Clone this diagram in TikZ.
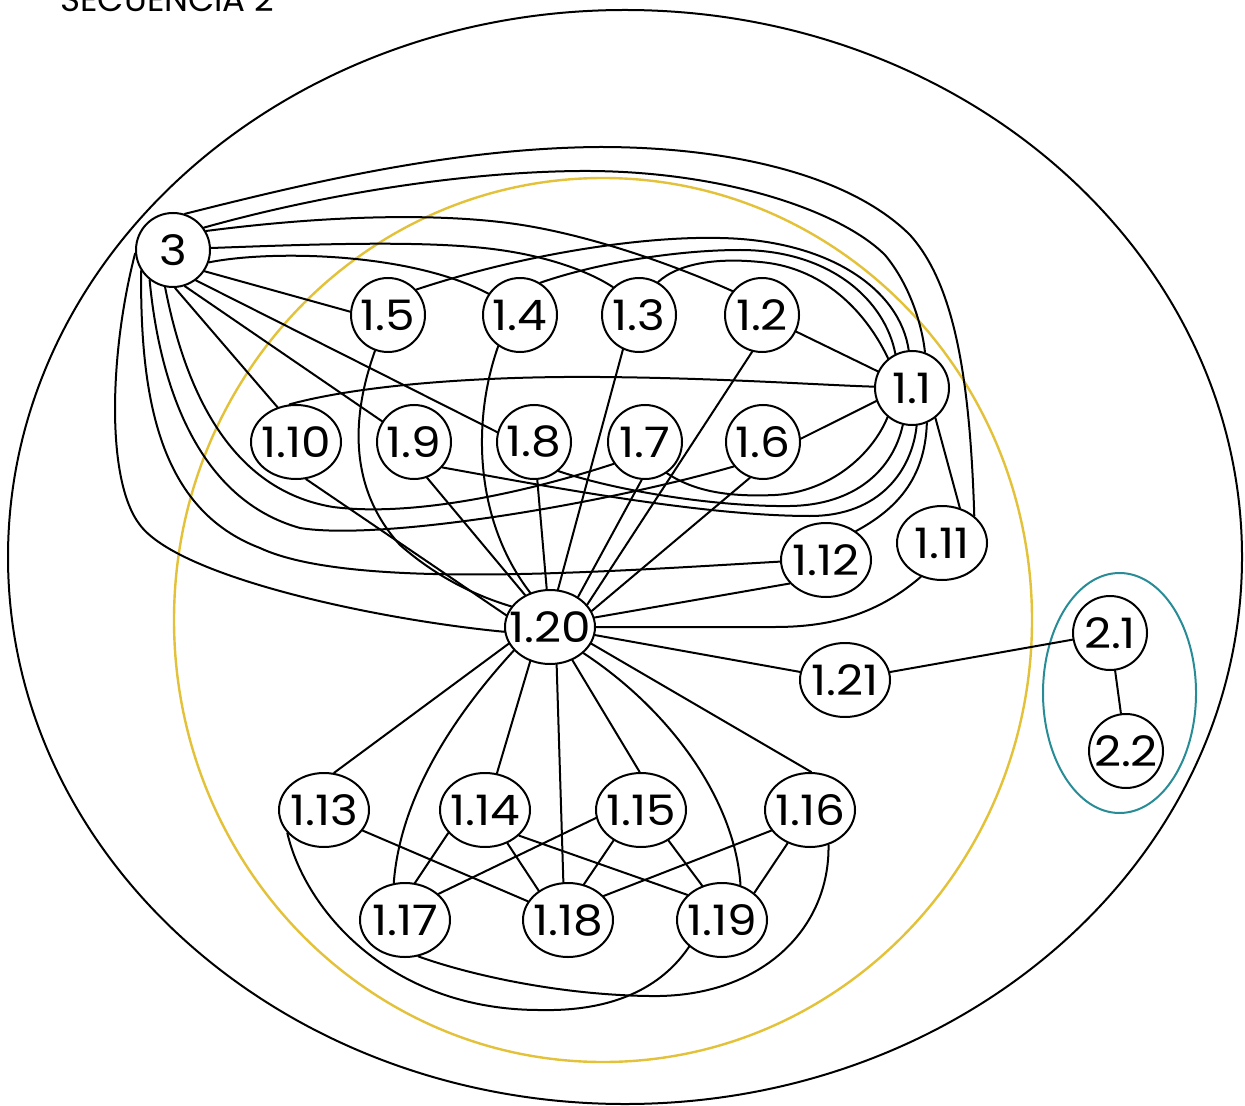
\documentclass[tikz,border=0pt]{standalone}
\usepackage{fontspec}
\usepackage{graphicx}
\usetikzlibrary{shapes.geometric}
\newfontfamily\lblfont{Poppins}
\definecolor{gold}{RGB}{227,194,58}
\definecolor{tealring}{RGB}{40,140,150}
% label text: centred, slightly widened, taking no width of its own
\newcommand\tx[1]{\makebox[0pt]{\scalebox{1.12}[1]{#1}}}

\begin{document}
\begin{tikzpicture}[x=0.5pt,y=-0.5pt,
  labelfont/.style={font=\lblfont\fontsize{21}{21}\selectfont},
  dot/.style={circle,draw,line width=1pt,fill=white,minimum size=37pt,inner sep=0pt,labelfont},
  oval/.style={ellipse,draw,line width=1pt,fill=white,minimum width=45pt,minimum height=37pt,inner sep=0pt,labelfont},
  link/.style={line width=1pt,line cap=round},
  ring/.style={line width=1pt}]

\useasboundingbox (0,0) rectangle (1245,1106);
\clip (0,0) rectangle (1245,1106);
\fill[white] (0,0) rectangle (1245,1106);

% title, partly cut by the top edge
\node[anchor=base west,inner sep=0pt,font=\lblfont\fontsize{17}{17}\selectfont] (title) at (60,12) {SECUENCIA 2};

% groups
\draw[ring] (625,557) ellipse [x radius=617, y radius=547];
\draw[ring,gold,line width=1.2pt] (603,620) ellipse [x radius=429, y radius=442];
\draw[ring,tealring] (1119.5,693) ellipse [x radius=76.5, y radius=120];

% nodes
\node[dot] (n3) at (173,250) {\tx{3}};
\node[dot] (n15) at (388,315) {\tx{1.5}};
\node[dot] (n14) at (520,315) {\tx{1.4}};
\node[dot] (n13) at (639,315) {\tx{1.3}};
\node[dot] (n12) at (762,315) {\tx{1.2}};
\node[dot] (n11) at (912,388) {\tx{1.1}};
\node[oval] (n110) at (296,442) {\tx{1.10}};
\node[dot] (n19) at (414,442) {\tx{1.9}};
\node[dot] (n18) at (534,442) {\tx{1.8}};
\node[dot] (n17) at (645,442) {\tx{1.7}};
\node[dot] (n16) at (763,442) {\tx{1.6}};
\node[oval] (n112) at (826,560) {\tx{1.12}};
\node[oval] (n111) at (942,543) {\tx{1.11}};
\node[oval] (n120) at (550,627) {\tx{1.20}};
\node[oval] (n121) at (845,680) {\tx{1.21}};
\node[oval] (n113) at (324,810) {\tx{1.13}};
\node[oval] (n114) at (485,810) {\tx{1.14}};
\node[oval] (n115) at (641,810) {\tx{1.15}};
\node[oval] (n116) at (810,810) {\tx{1.16}};
\node[oval] (n117) at (405,920) {\tx{1.17}};
\node[oval] (n118) at (568,920) {\tx{1.18}};
\node[oval] (n119) at (722,920) {\tx{1.19}};
\node[dot] (n21) at (1110,633) {\tx{2.1}};
\node[dot] (n22) at (1126,751) {\tx{2.2}};

% links leaving 3
\draw[link] (n3.72) .. controls (300,185) and (450,148) .. (600,147) .. controls (730,147) and (850,175) .. (910,235) .. controls (955,285) and (970,380) .. (n111.40);
\draw[link] (n3.36) .. controls (320,195) and (460,172) .. (580,171) .. controls (720,170) and (840,210) .. (885,255) .. controls (910,285) and (922,325) .. (n11.70);
\draw[link] (n3.30) .. controls (330,215) and (430,214) .. (500,222) .. controls (590,232) and (690,272) .. (n12.141);
\draw[link] (n3.3) .. controls (320,244) and (430,240) .. (500,250) .. controls (550,257) and (590,272) .. (n13.133);
\draw[link] (n3.-19) .. controls (270,250) and (410,252) .. (n14.146);
\draw[link] (n3.-34) -- (n15.175);
\draw[link] (n3.-53) -- (n18.165);
\draw[link] (n3.-72) -- (n19.147);
\draw[link] (n3.-87) -- (n110.118);
\draw[link] (n3.185) .. controls (110,350) and (105,480) .. (140,525) .. controls (180,578) and (380,620) .. (n120.186);
\draw[link] (n3.213) .. controls (140,400) and (160,510) .. (260,548) .. controls (350,590) and (600,572) .. (n112.182);
\draw[link] (n3.232) .. controls (160,390) and (200,500) .. (300,528) .. controls (380,541) and (600,505) .. (n16.220);
\draw[link] (n3.258) .. controls (185,390) and (230,490) .. (333,507) .. controls (420,518) and (540,488) .. (n17.215);

% links around 1.1
\draw[link] (n15.42) .. controls (520,255) and (640,236) .. (720,238) .. controls (830,240) and (900,290) .. (n11.95);
\draw[link] (n14.58) .. controls (600,262) and (680,250) .. (740,250) .. controls (830,250) and (885,300) .. (n11.116);
\draw[link] (n13.60) .. controls (680,262) and (720,258) .. (760,262) .. controls (830,268) and (870,320) .. (n11.129);
\draw[link] (n12) -- (n11);
\draw[link] (n16.5) -- (n11.200);
\draw[link] (n110.100) .. controls (360,385) and (480,376) .. (600,377) .. controls (720,378) and (820,385) .. (n11.178);
\draw[link] (n17.-55) .. controls (695,492) and (730,497) .. (775,495) .. controls (830,492) and (872,455) .. (n11.-130);
\draw[link] (n18.-50) .. controls (620,492) and (720,507) .. (790,506) .. controls (855,505) and (893,470) .. (n11.-104);
\draw[link] (n19.-42) .. controls (540,485) and (700,516) .. (810,516) .. controls (880,516) and (912,470) .. (n11.-83);
\draw[link] (n11.-67) .. controls (925,480) and (895,510) .. (n112.44);
\draw[link] (n11.-52) -- (n111.63);

% links into 1.20 from above
\draw[link] (n15.250) .. controls (350,420) and (350,490) .. (400,545) .. controls (440,580) and (480,597) .. (n120.152);
\draw[link] (n14.235) .. controls (472,420) and (474,520) .. (n120.120);
\draw[link] (n13.-115) -- (n120.78);
\draw[link] (n12.-105) -- (n120.31);
\draw[link] (n110.-75) -- (n120.165);
\draw[link] (n19.-70) -- (n120.128);
\draw[link] (n18) -- (n120);
\draw[link] (n17.-95) -- (n120.47);
\draw[link] (n16.-110) -- (n120.21);
\draw[link] (n112.213) -- (n120.12);
\draw[link] (n111.238) .. controls (880,612) and (835,627) .. (775,627) -- (n120);
\draw[link] (n121) -- (n120);

% links below 1.20
\draw[link] (n120.202) -- (n113.75);
\draw[link] (n120.213) .. controls (450,720) and (400,800) .. (n117.107);
\draw[link] (n120.240) -- (n114.72);
\draw[link] (n120.-80) -- (n118.97);
\draw[link] (n120.-56) -- (n115.92);
\draw[link] (n120.-38) .. controls (670,710) and (735,800) .. (n119.62);
\draw[link] (n120.-22) -- (n116.88);

\draw[link] (n113.-28) -- (n118.155);
\draw[link] (n114.212) -- (n117.75);
\draw[link] (n114.-56) -- (n118.135);
\draw[link] (n114.-37) -- (n119.144);
\draw[link] (n115.190) -- (n117.38);
\draw[link] (n115.228) -- (n118.66);
\draw[link] (n115.-48) -- (n119.120);
\draw[link] (n116.208) -- (n118.34);
\draw[link] (n116.236) -- (n119.40);
\draw[link] (n113.212) .. controls (305,910) and (390,1010) .. (540,1010) .. controls (630,1012) and (670,975) .. (n119.219);
\draw[link] (n117.-70) .. controls (470,975) and (560,995) .. (650,996) .. controls (760,998) and (830,930) .. (n116.-62);

% second group
\draw[link] (n121) -- (n21);
\draw[link] (n21) -- (n22);
\end{tikzpicture}
\end{document}
